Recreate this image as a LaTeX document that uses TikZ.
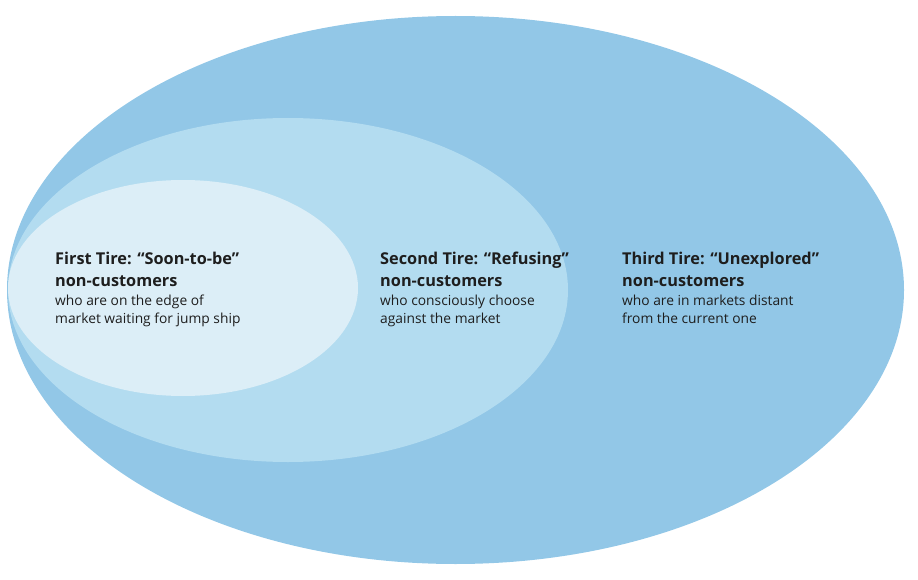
\documentclass[tikz,border=0pt]{standalone}
\usepackage{fontspec}
\setmainfont{Open Sans}
\usepackage{xcolor}
\usepackage{tikz}
\usetikzlibrary{positioning}
\definecolor{outerblue}{HTML}{92C7E7}
\definecolor{midblue}{HTML}{B3DCF0}
\definecolor{innerblue}{HTML}{DCEEF7}
\definecolor{inkgray}{HTML}{1E1E1E}

\begin{document}
\begin{tikzpicture}[x=1pt, y=-1pt,
		tiretitle/.style={anchor=north west, align=left, inner sep=0pt, text=inkgray, font=\bfseries\fontsize{16.3}{21.5}\selectfont}, % Title of each tire
		tiredesc/.style={anchor=north west, align=left, inner sep=0pt, text=inkgray, font=\fontsize{13.8}{18}\selectfont}, % Description below the title
		]
		% Fix the page size to the reference
		\useasboundingbox (0,0) rectangle (918,580);
		% Third tire (outer ellipse)
		\fill[outerblue] (455.5,290) ellipse [x radius=448.5, y radius=274];
		% Second tire (middle ellipse)
		\fill[midblue] (288,290) ellipse [x radius=280, y radius=172];
		% First tire (inner ellipse)
		\fill[innerblue] (183,288) ellipse [x radius=175, y radius=108];
		% Texts
		\node[tiretitle] (first) at (55,252) {First Tire: “Soon-to-be”\\non-customers};
		\node[tiredesc, below=8pt of first.south west, anchor=north west] (firstdesc) {who are on the edge of\\market waiting for jump ship};
		\node[tiretitle] (second) at (380,252) {Second Tire: “Refusing”\\non-customers};
		\node[tiredesc, below=8pt of second.south west, anchor=north west] (seconddesc) {who consciously choose\\against the market};
		\node[tiretitle] (third) at (622,252) {Third Tire: “Unexplored”\\non-customers};
		\node[tiredesc, below=8pt of third.south west, anchor=north west] (thirddesc) {who are in markets distant\\from the current one};
	\end{tikzpicture}
\end{document}
